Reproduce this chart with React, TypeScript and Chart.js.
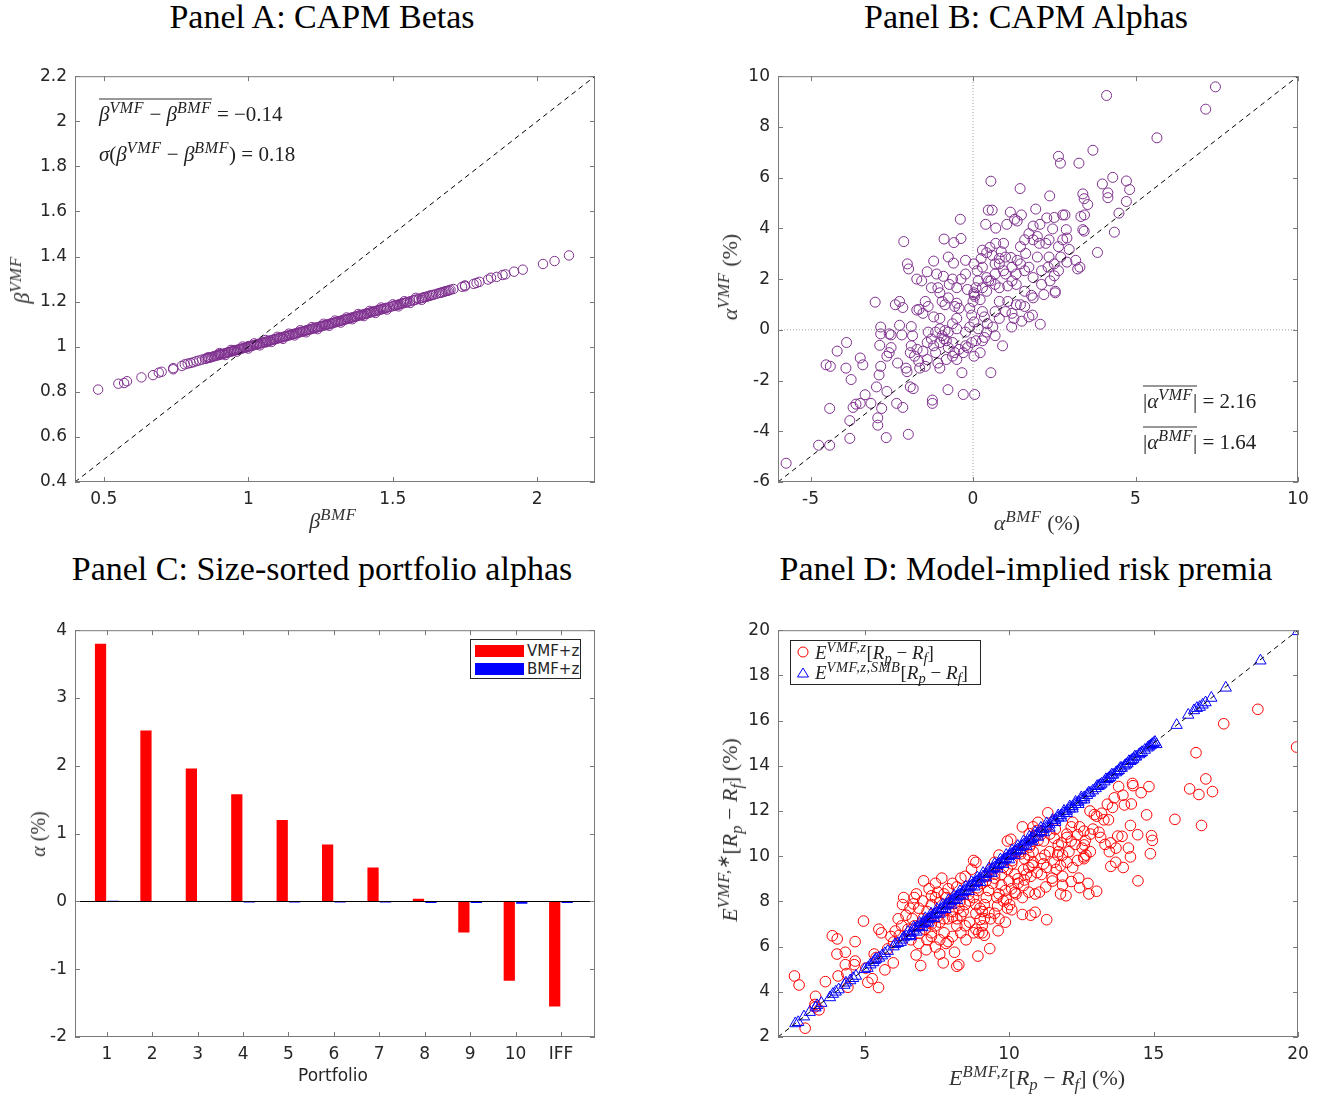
import React, { useEffect, useRef } from "react";
import { Chart, registerables } from "chart.js";
Chart.register(...registerables);

// ---------------- DATA ----------------
// Panel A: CAPM betas (BMF, VMF)
const betaPairs: number[][] = [
  [0.48,0.81],[0.55,0.836],[0.57,0.839],[0.58,0.847],[0.63,0.864],[0.67,0.874],[0.69,0.885],[0.70,0.889],
  [0.74,0.900],[0.74,0.905],[0.77,0.915],[0.78,0.922],[0.79,0.925],[0.80,0.928],[0.81,0.931],[0.82,0.936],
  [0.83,0.939],[0.84,0.943],[0.85,0.946],[0.86,0.950],[0.86,0.953],[0.87,0.953],[0.88,0.957],[0.89,0.961],
  [0.90,0.964],[0.90,0.967],[0.91,0.968],[0.92,0.971],[0.93,0.975],[0.94,0.978],[0.95,0.982],[0.95,0.985],
  [0.96,0.986],[0.97,0.989],[0.98,0.993],[0.99,0.996],[1.00,1.000],[1.00,1.003],[1.01,1.004],[1.02,1.007],
  [1.03,1.011],[1.04,1.014],[1.05,1.018],[1.06,1.022],[1.06,1.019],[1.07,1.025],[1.08,1.029],[1.09,1.032],
  [1.10,1.036],[1.11,1.040],[1.12,1.043],[1.13,1.047],[1.14,1.050],[1.15,1.054],[1.16,1.058],[1.17,1.061],
  [1.18,1.065],[1.19,1.068],[1.20,1.072],[1.21,1.076],[1.22,1.079],[1.23,1.083],[1.24,1.086],[1.25,1.090],
  [1.26,1.094],[1.27,1.097],[1.28,1.101],[1.29,1.104],[1.30,1.108],[1.31,1.112],[1.32,1.115],[1.33,1.119],
  [1.34,1.122],[1.35,1.126],[1.36,1.130],[1.37,1.133],[1.38,1.137],[1.39,1.140],[1.40,1.144],[1.41,1.148],
  [1.42,1.151],[1.43,1.155],[1.44,1.158],[1.45,1.162],[1.46,1.166],[1.47,1.169],[1.48,1.173],[1.50,1.180],
  [1.51,1.184],[1.52,1.187],[1.53,1.191],[1.54,1.194],[1.55,1.198],[1.57,1.205],[1.58,1.209],[1.60,1.216],
  [1.61,1.220],[1.62,1.223],[1.63,1.227],[1.64,1.230],[1.66,1.238],[1.67,1.241],[1.68,1.245],[1.69,1.248],
  [1.70,1.253],[1.71,1.256],[1.74,1.266],[1.75,1.268],[1.75,1.272],[1.78,1.279],[1.79,1.283],[1.80,1.288],
  [1.83,1.298],[1.84,1.306],[1.86,1.310],[1.88,1.318],[1.89,1.321],[1.92,1.333],[1.95,1.342],[2.02,1.367],
  [2.06,1.380],[2.11,1.405]
];
// the densely packed middle of the Panel A cloud
const betaPairsDense: number[][] = [
  [0.855,0.948],[0.865,0.951],[0.875,0.955],[0.885,0.959],[0.895,0.962],[0.905,0.966],[0.915,0.969],
  [0.925,0.973],[0.935,0.977],[0.945,0.980],[0.955,0.984],[0.965,0.987],[0.975,0.991],[0.985,0.995],
  [0.995,0.998],[1.005,1.002],[1.015,1.005],[1.025,1.009],[1.035,1.013],[1.045,1.016],[1.055,1.020],
  [1.065,1.023],[1.075,1.027],[1.085,1.031],[1.095,1.034],[1.105,1.038],[1.115,1.041],[1.125,1.045],
  [1.135,1.049],[1.145,1.052],[1.155,1.056],[1.165,1.059],[1.175,1.063],[1.185,1.067],[1.195,1.070],
  [1.205,1.074],[1.215,1.077],[1.225,1.081],[1.235,1.085],[1.245,1.088],[1.255,1.092],[1.265,1.095],
  [1.275,1.099],[1.285,1.103],[1.295,1.106],[1.305,1.110],[1.315,1.113],[1.325,1.117],[1.335,1.121],
  [1.345,1.124],[1.355,1.128],[1.365,1.131],[1.375,1.135],[1.385,1.139],[1.395,1.142],[1.405,1.146],
  [1.415,1.149],[1.425,1.153],[1.435,1.157],[1.445,1.160],[1.455,1.164],[1.465,1.167],[1.475,1.171],
  [1.49,1.176],[1.505,1.182],[1.515,1.185],[1.525,1.189],[1.535,1.193],[1.545,1.196],[1.56,1.202],
  [1.575,1.207],[1.59,1.212],[1.605,1.218],[1.615,1.221],[1.625,1.225],[1.635,1.229],[1.65,1.234],
  [1.665,1.239],[1.675,1.243],[1.685,1.247],[1.695,1.250],
  [0.90,0.972],[0.92,0.963],[0.94,0.986],[0.96,0.978],[0.98,1.001],[1.00,0.992],[1.02,1.015],[1.04,1.006],
  [1.06,1.030],[1.08,1.021],[1.10,1.044],[1.12,1.035],[1.14,1.058],[1.16,1.050],[1.18,1.073],[1.20,1.064],
  [1.22,1.087],[1.24,1.078],[1.26,1.102],[1.28,1.093],[1.30,1.116],[1.32,1.107],[1.34,1.130],[1.36,1.122],
  [1.38,1.145],[1.40,1.136],[1.42,1.159],[1.44,1.150],[1.46,1.174],[1.48,1.165],[1.50,1.188],[1.52,1.179],
  [1.54,1.202],[1.56,1.194],[1.58,1.217],[1.60,1.208]
];
const betaRange = [0.4, 2.2];
const betaXTicks = [0.5, 1, 1.5, 2];
const betaYTicks = [0.4, 0.6, 0.8, 1, 1.2, 1.4, 1.6, 1.8, 2, 2.2];

// Panel B: CAPM alphas (BMF %, VMF %)
const alphaPairs: number[][] = [
  [7.46,9.58],[7.16,8.70],[4.11,9.24],[5.66,7.57],[3.69,7.08],[2.63,6.84],[2.69,6.57],[3.26,6.57],[0.55,5.86],
  [1.45,5.57],[2.36,5.28],[4.30,6.01],[3.98,5.75],[4.72,5.87],[4.82,5.53],[4.15,5.40],[4.15,5.21],[3.38,5.36],
  [3.42,5.17],[3.53,4.94],[4.72,5.06],[4.49,4.60],[4.35,3.85],[3.83,3.05],[0.47,4.72],[0.59,4.72],[-0.39,4.36],
  [0.39,4.16],[0.70,4.01],[1.15,4.64],[1.49,4.53],[1.93,4.76],[2.27,4.41],[1.28,4.36],[1.36,4.29],[1.04,4.16],
  [2.06,4.16],[2.76,4.53],[2.83,4.53],[2.50,4.43],[3.32,4.47],[3.43,4.53],[3.38,3.95],[3.42,3.89],[2.45,3.98],
  [2.87,3.95],[-2.13,3.48],[-0.89,3.58],[-0.37,3.60],[-0.59,3.44],[-2.02,2.60],[-1.98,2.40],[-1.21,2.71],
  [-0.60,2.63],[-1.73,2.00],[-1.58,1.93],[-1.41,2.29],[-1.12,2.20],[-0.91,2.11],[-0.37,2.00],[-0.23,2.20],
  [0.03,2.60],[0.25,2.81],[0.42,3.04],[0.52,3.25],[0.87,3.08],[1.17,2.85],[1.46,3.28],[1.59,3.55],[1.85,3.55],
  [1.98,3.68],[1.72,3.79],[2.24,3.41],[2.63,3.28],[2.89,3.62],[2.96,3.17],[2.70,2.87],[2.89,2.67],[3.16,2.74],
  [3.29,2.47],[3.22,2.40],[2.50,2.13],[2.53,1.52],[2.53,1.46],[2.18,1.39],[2.11,2.33],[1.72,2.47],[1.59,2.33],
  [1.85,2.06],[1.33,2.20],[1.20,2.47],[0.94,2.33],[0.68,2.20],[0.55,1.93],[0.81,1.66],[1.07,1.73],[1.33,1.79],
  [1.59,1.52],[1.80,1.36],[1.07,1.12],[1.33,0.99],[1.59,0.92],[1.83,0.58],[2.07,0.22],[1.50,0.34],[1.19,0.11],
  [1.26,0.45],[0.91,-0.63],[0.55,-1.69],[0.05,-2.55],[-0.30,-2.55],[-0.34,-1.69],[-0.77,-2.36],[-1.25,-2.77],
  [-1.25,-2.90],[-1.99,-4.12],[-2.67,-4.25],[-3.79,-4.28],[-4.75,-4.55],[-4.41,-4.55],[-5.75,-5.26],[-3.79,-3.58],
  [-3.69,-3.06],[-3.60,-2.93],[-3.47,-2.90],[-4.41,-3.10],[-3.14,-2.90],[-3.32,-2.56],[-2.93,-3.47],[-2.81,-3.10],
  [-2.93,-3.76],[-2.97,-2.25],[-2.65,-2.43],[-2.35,-2.90],[-2.16,-3.06],[-1.93,-2.25],[-1.84,-2.32],[-3.75,-1.96],
  [-3.91,-1.51],[-4.52,-1.38],[-4.39,-1.44],[-4.18,-0.84],[-3.89,-0.50],[-3.47,-1.11],[-3.39,-1.38],[-2.89,-1.78],
  [-2.84,-1.44],[-2.65,-1.04],[-2.58,-0.90],[-2.52,-0.70],[-2.87,-0.61],[-2.84,-0.16],[-2.84,0.11],[-2.58,-0.16],
  [-2.52,-0.20],[-2.32,-1.31],[-2.06,-1.51],[-2.03,-1.65],[-2.19,-0.20],[-2.26,0.18],[-1.90,0.13],[-1.86,-0.23],
  [-1.90,-0.63],[-1.93,-0.90],[-1.80,-1.04],[-1.67,-1.24],[-1.64,-1.51],[-1.41,-1.17],[-1.54,-0.84],[-1.72,-0.77],
  [-1.41,-0.50],[-1.28,-0.36],[-1.21,-0.63],[-1.38,-0.09],[-1.15,-0.09],[-1.02,0.04],[-0.95,-0.23],[-0.89,-0.36],
  [-1.15,-0.90],[-1.08,-1.31],[-1.02,-1.51],[-0.82,-1.17],[-0.63,-1.04],[-0.50,-1.17],[-0.30,-0.90],[-0.23,-0.63],
  [-0.04,-0.50],[0.03,-1.04],[0.22,-0.90],[0.29,-0.43],[0.35,-0.30],[0.42,-0.09],[0.68,-0.23],[0.61,0.11],
  [0.44,0.24],[0.03,0.31],[-0.04,0.58],[-0.10,0.85],[-0.43,0.85],[-0.50,1.05],[-0.56,0.92],[-0.76,1.26],
  [-0.86,0.99],[-0.95,1.12],[-1.02,1.46],[-1.28,1.66],[-1.08,1.66],[-1.47,1.12],[-1.38,0.92],[-1.54,0.65],
  [-1.21,0.51],[-1.73,0.78],[-1.66,0.81],[-2.39,0.99],[-2.26,1.12],[-2.16,0.88],[-3.01,1.09],[-0.73,1.79],
  [-0.63,2.00],[-0.50,1.66],[-0.17,1.59],[0.03,1.46],[0.05,1.32],[0.00,1.12],[0.22,1.19],[0.29,0.72],[0.35,0.51],
  [0.68,0.72],[0.81,0.45],[1.00,0.72],[1.20,0.65],[0.81,1.12],[0.29,1.66],[0.42,1.52],[0.16,1.93],[0.48,1.93],
  [0.68,1.79],[0.13,2.33],[0.29,2.47],[0.42,2.06],[0.68,2.60],[0.81,2.81],[0.29,3.14],[0.59,2.94],[0.03,1.39],
  [-0.10,0.11],[-0.50,0.04],[-0.63,0.24],[-0.23,-0.09],[-0.63,-0.50],[-0.76,-0.70],[0.16,0.04],[0.09,-0.43],
  [-0.17,-0.70],[-0.43,-0.77],[-0.56,-0.90],[-1.02,-0.50],[-0.82,-0.43],[-0.76,-0.09],[-0.86,-0.03],[-1.47,-1.44],
  [-0.76,2.87],[-0.23,2.74],[0.09,1.66],[-0.50,0.45],[-1.02,0.45],[1.72,0.51],[1.46,0.99],[1.85,1.26],[2.11,1.79],
  [2.37,1.93],[2.31,2.47],[2.50,2.60],[2.63,2.33],[2.34,2.87],[1.46,2.60],[1.36,2.74],[1.00,2.87],[0.81,2.60],
  [1.00,2.20],[1.20,1.93],[1.98,2.87],[1.62,3.01],[2.04,3.41],[2.34,3.55],[2.76,3.55],[1.85,4.09],[0.94,3.41],
  [0.70,3.41]
];
const alphaXRange = [-6, 10];
const alphaYRange = [-6, 10];
const alphaXTicks = [-5, 0, 5, 10];
const alphaYTicks = [-6, -4, -2, 0, 2, 4, 6, 8, 10];

// Panel C: size-sorted portfolio alphas (%)
const portfolioLabels = ["1", "2", "3", "4", "5", "6", "7", "8", "9", "10", "IFF"];
const portfolioPos = [1, 2, 3, 4, 5, 6, 7, 8, 9, 10, 11];
const alphaVMFz = [3.80, 2.52, 1.96, 1.58, 1.20, 0.84, 0.50, 0.04, -0.46, -1.17, -1.55];
const alphaBMFz = [0.01, 0.005, 0.005, -0.015, -0.015, -0.015, -0.015, -0.025, -0.025, -0.035, -0.025];
const portfolioRange = [0.3, 11.75];
const portfolioYRange = [-2, 4];
const portfolioYTicks = [-2, -1, 0, 1, 2, 3, 4];

// Panel D: model-implied risk premia (%)
const premiaVMFz: number[][] = [
  [19.95,14.83],[18.61,16.5],[17.43,15.86],[16.47,14.58],[16.81,13.42],[16.25,12.98],[16.57,12.73],[17.04,12.86],
  [16.66,11.36],[15.74,11.63],[14.84,13.08],[14.93,10.91],[14.96,10.70],[14.89,10.11],[14.76,11.83],[14.57,12.81],
  [14.27,13.22],[14.29,13.12],[14.23,12.31],[14.20,11.36],[14.45,10.95],[14.13,10.36],[13.95,9.50],[14.46,8.91],
  [13.69,9.73],[13.52,9.55],[13.79,13.08],[13.64,12.58],[13.94,12.70],[13.58,12.16],[13.99,12.27],[13.76,10.89],
  [13.91,10.88],[13.70,10.36],[13.52,10.59],[13.44,11.61],[13.28,11.61],[13.11,11.06],[13.03,11.77],[12.95,11.84],
  [12.81,10.98],[12.64,10.70],[12.44,11.30],[12.59,11.11],[12.37,10.95],[12.53,10.36],[12.29,10.52],[12.15,10.67],
  [12.0,10.83],[12.07,10.20],[11.85,10.05],[12.0,9.73],[12.37,9.81],[12.59,9.97],[12.41,9.03],[12.44,8.61],
  [12.73,8.80],[12.76,8.33],[13.03,8.45],[11.85,8.72],[11.97,8.25],[11.78,8.33],[11.49,9.03],[11.63,9.42],
  [11.56,9.73],[11.78,9.58],[11.68,10.05],[11.71,10.20],[11.82,10.59],[12.0,10.98],[12.15,11.30],[11.56,10.80],
  [11.41,10.98],[11.34,11.92],[11.24,10.05],[11.19,9.66],[11.12,9.19],[11.27,8.64],[11.30,7.19],[10.90,8.33],
  [11.05,8.41],[10.68,8.41],[10.75,7.39],[10.90,7.52],[10.46,7.42],[10.46,8.17],[10.24,8.33],[10.09,8.56],
  [10.31,8.80],[10.53,8.95],[10.75,9.11],[10.97,9.27],[10.68,9.50],[10.83,9.73],[10.68,10.05],[10.83,10.20],
  [10.53,9.89],[10.39,10.20],[10.46,11.30],[10.06,10.75],[9.94,10.67],[10.09,9.66],[9.94,9.42],[9.73,9.19],
  [9.50,9.03],[9.73,8.72],[9.87,8.48],[9.65,8.33],[9.58,8.17],[9.80,8.02],[10.02,7.86],[10.09,7.63],[9.94,7.70],
  [9.50,7.47],[9.62,6.70],[9.33,5.91],[9.14,7.23],[9.14,7.86],[9.21,8.17],[9.29,8.48],[8.99,7.70],[8.85,7.47],
  [9.07,6.92],[9.07,6.61],[9.14,6.50],[8.95,6.61],[8.92,5.58],[8.77,6.61],[8.85,6.77],[8.63,7.08],[8.48,6.92],
  [8.51,6.30],[8.26,5.20],[8.19,5.13],[8.11,5.75],[7.89,6.22],[7.82,6.14],[7.60,5.67],[7.72,5.28],[7.75,6.61],
  [8.19,7.23],[8.33,7.39],[8.41,7.55],[8.26,7.70],[8.04,7.31],[7.89,7.23],[8.04,7.55],[7.75,7.23],[7.60,7.08],
  [7.45,6.92],[7.31,6.61],[7.31,6.45],[7.16,6.30],[7.13,5.86],[6.78,5.63],[6.94,5.16],[6.87,6.14],[7.01,7.23],
  [6.87,7.70],[7.01,8.02],[7.04,8.91],[7.23,8.56],[7.45,8.80],[7.67,9.03],[8.04,8.80],[8.33,9.03],[8.77,9.81],
  [8.85,9.73],[8.70,9.42],[8.48,9.11],[8.19,8.64],[7.75,8.33],[7.45,8.17],[7.31,7.86],[7.16,7.55],[6.72,8.17],
  [6.69,7.89],[6.57,7.70],[6.43,7.39],[6.31,7.86],[6.16,7.23],[6.28,6.92],[6.06,6.69],[5.91,6.45],[5.58,6.61],
  [5.49,6.77],[4.96,7.13],[5.99,5.28],[5.70,4.97],[5.48,4.19],[5.26,4.58],[5.11,4.42],[5.04,5.05],[5.33,5.67],
  [5.40,5.52],[4.67,6.22],[4.64,5.20],[4.67,5.36],[4.42,4.20],[4.38,4.81],[4.33,5.20],[4.33,5.75],[4.08,4.70],
  [4.04,5.67],[4.05,6.34],[3.88,6.48],[3.64,4.45],[3.30,3.80],[3.28,3.44],[3.42,3.20],[3.28,3.33],[2.57,4.70],
  [2.73,4.30],[2.94,2.39],[10.83,11.30],[11.12,10.98],[10.97,11.14],[11.19,10.67],[10.75,10.52],[10.24,10.20],
  [9.65,10.05],[9.50,9.73],[9.36,9.42],[9.21,9.11],[9.43,8.80],[9.07,8.80],[8.92,8.48],[8.77,8.17],[8.63,8.02],
  [8.48,7.86],[8.85,7.86],[9.07,7.55],[9.36,7.23],[9.65,7.23],[9.87,7.08],[8.19,6.92],[8.33,6.61],[8.04,6.45],
  [7.60,6.30],[7.45,5.98],[7.31,7.00],[7.09,6.77],[6.94,7.00],[6.72,6.92],[6.65,7.23],[6.50,6.77],[6.35,8.17],
  [6.79,8.33],[7.31,8.25],[7.53,8.41],[7.89,8.56],[7.82,8.17],[7.60,7.94],[14.20,9.97],[13.17,10.83],[13.32,10.52],
  [13.47,10.20],[12.59,9.89],[12.81,10.20],[12.66,10.05],[11.85,9.11],[12.15,8.88],
  [8.3,8.0],[8.6,8.3],[8.9,8.6],[9.2,8.9],[9.5,9.2],[9.8,9.5],[10.1,9.8],[10.4,10.1],[10.7,10.4],[11.0,10.7],
  [10.2,9.2],[10.5,9.4],[10.8,9.6],[11.1,9.9],[11.4,10.2],[11.7,10.5],[9.0,7.2],[9.3,7.5],[9.6,7.8],[9.9,8.1],
  [10.2,8.4],[10.5,8.7],[7.8,7.6],[8.1,7.9],[7.5,7.3],[7.2,7.1],[6.9,6.6],[6.6,6.3],[6.2,6.5],[6.0,6.2],
  [5.8,5.9],[10.3,9.0],[10.6,9.2],[10.0,8.9],[11.3,9.5],[11.5,8.9],[12.2,9.5],[12.6,10.5],[12.9,11.2],
  [13.2,11.9],[13.4,12.3],[12.8,12.0],[12.2,11.5],[11.6,11.2],[11.0,11.5],[10.7,11.0]
];
const premiaSMB: number[][] = [
  [2.6,2.6],[2.7,2.65],[2.9,2.9],[3.1,3.1],[3.3,3.3],[3.35,3.4],[3.5,3.5],[3.8,3.75],[3.9,3.9],[4.0,4.0],
  [4.1,4.1],[4.3,4.3],[4.35,4.4],[4.5,4.5],[4.6,4.6],[4.7,4.7],[5.0,5.0],[5.1,5.05],[5.2,5.2],[5.3,5.3],
  [5.35,5.4],[5.4,5.45],[5.5,5.5],[5.6,5.6],[5.7,5.7],[5.8,5.8],[6.0,6.0],[6.05,6.1],[6.15,6.15],[6.25,6.2],
  [6.3,6.3],[6.35,6.4],[6.45,6.45],[6.55,6.5],[6.6,6.6],[6.7,6.7],[6.75,6.8],[6.85,6.85],[6.9,6.9],[7.0,7.0],
  [7.05,7.05],[7.1,7.1],[7.2,7.2],[7.25,7.25],[7.3,7.3],[7.4,7.4],[7.45,7.45],[7.5,7.5],[7.6,7.6],[7.65,7.65],
  [7.7,7.7],[7.8,7.8],[7.85,7.85],[7.9,7.9],[8.0,8.0],[8.05,8.05],[8.1,8.1],[8.2,8.2],[8.25,8.25],[8.3,8.3],
  [8.4,8.4],[8.45,8.45],[8.5,8.5],[8.6,8.6],[8.65,8.65],[8.7,8.7],[8.8,8.8],[8.85,8.85],[8.9,8.9],[9.0,9.0],
  [9.1,9.1],[9.2,9.2],[9.3,9.3],[9.4,9.4],[9.45,9.45],[9.5,9.5],[9.6,9.6],[9.65,9.65],[9.7,9.7],[9.8,9.8],
  [9.85,9.85],[9.9,9.9],[10.0,10.0],[10.05,10.05],[10.1,10.1],[10.2,10.2],[10.25,10.25],[10.3,10.3],[10.4,10.4],
  [10.45,10.45],[10.5,10.5],[10.6,10.6],[10.7,10.7],[10.75,10.75],[10.8,10.8],[10.9,10.9],[11.0,11.0],
  [11.1,11.1],[11.2,11.2],[11.3,11.3],[11.4,11.4],[11.5,11.5],[11.6,11.6],[11.7,11.7],[11.8,11.8],[11.9,11.9],
  [12.0,12.0],[12.1,12.1],[12.2,12.2],[12.3,12.3],[12.4,12.4],[12.5,12.5],[12.6,12.6],[12.7,12.7],[12.8,12.8],
  [13.0,13.0],[13.1,13.1],[13.2,13.2],[13.3,13.3],[13.4,13.4],[13.5,13.5],[13.6,13.6],[13.7,13.7],[13.8,13.8],
  [13.9,13.9],[14.0,14.0],[14.1,14.1],[14.2,14.2],[14.3,14.3],[14.4,14.4],[14.5,14.5],[14.6,14.6],[14.8,14.8],
  [14.9,14.9],[15.0,15.0],[15.8,15.8],[16.2,16.25],[16.4,16.45],[16.5,16.55],[16.6,16.6],[16.7,16.7],
  [16.8,16.8],[17.0,17.0],[17.5,17.45],[18.7,18.65],[20.0,19.95],
  [6.5,6.65],[6.6,6.45],[6.7,6.85],[6.8,6.65],[6.9,7.05],[7.0,6.85],[7.1,7.25],[7.2,7.05],[7.3,7.45],[7.4,7.25],
  [7.5,7.65],[7.6,7.45],[7.7,7.85],[7.8,7.65],[7.9,8.05],[8.0,7.85],[8.1,8.25],[8.2,8.05],[8.3,8.45],[8.4,8.25],
  [8.5,8.65],[8.6,8.45],[8.7,8.85],[8.8,8.65],[8.9,9.05],[9.0,8.85],[9.1,9.25],[9.2,9.05],[9.3,9.45],[9.4,9.25],
  [9.5,9.65],[9.6,9.45],[9.7,9.85],[9.8,9.65],[9.9,10.05],[10.0,9.85],[10.1,10.25],[10.2,10.05],[10.3,10.45],
  [10.4,10.25],[10.5,10.65],[10.6,10.45],[10.7,10.85],[10.8,10.65],[10.9,11.05],[11.0,10.85],[11.1,11.25],
  [11.2,11.05],[11.3,11.45],[11.4,11.25],[11.5,11.6],[11.6,11.5],[11.7,11.8],[11.8,11.7],[11.9,12.0],[12.0,11.9],
  [12.1,12.2],[12.2,12.1],[12.3,12.4],[12.4,12.3],[12.5,12.6],[12.6,12.5],[12.75,12.8],[12.9,12.9],[13.05,13.1],
  [13.15,13.15],[13.35,13.4],[13.45,13.45],[13.55,13.6],[13.75,13.75],[13.85,13.9],[14.05,14.05],[14.15,14.2],
  [14.25,14.25],[14.35,14.4],[14.55,14.55],[14.7,14.7],[14.85,14.85],[14.95,14.95],[15.05,15.05],[15.1,14.95]
];
const premiaRange = [2, 20];
const premiaXTicks = [5, 10, 15, 20];
const premiaYTicks = [2, 4, 6, 8, 10, 12, 14, 16, 18, 20];

// ---------------- STYLE CONSTANTS ----------------
const AX_W = 70;
const AX_H = 45;
const PAD_T = 15;
const PAD_R = 20;
const TICK_FONT = { family: "DejaVu Sans", size: 17 };
const TICK_COLOR = "#262626";
const PURPLE = "#7E2F8E";

const boxPlugin = {
  id: "matlabBox",
  afterDatasetsDraw(chart: any, _args: any, opts: any) {
    const { ctx, chartArea: a } = chart;
    const xs = chart.scales.x;
    const ys = chart.scales.y;
    ctx.save();
    if (opts && opts.zeroLine) {
      const py = Math.round(ys.getPixelForValue(0)) + 0.5;
      ctx.strokeStyle = "#000";
      ctx.lineWidth = 1;
      ctx.beginPath();
      ctx.moveTo(a.left, py);
      ctx.lineTo(a.right, py);
      ctx.stroke();
    }
    ctx.strokeStyle = "#7a7a7a";
    ctx.lineWidth = 1;
    ctx.strokeRect(a.left + 0.5, a.top + 0.5, a.right - a.left - 1, a.bottom - a.top - 1);
    const L = 5;
    ctx.beginPath();
    xs.ticks.forEach((t: any) => {
      const px = Math.round(xs.getPixelForValue(t.value)) + 0.5;
      ctx.moveTo(px, a.bottom);
      ctx.lineTo(px, a.bottom - L);
      ctx.moveTo(px, a.top);
      ctx.lineTo(px, a.top + L);
    });
    ys.ticks.forEach((t: any) => {
      const py = Math.round(ys.getPixelForValue(t.value)) + 0.5;
      ctx.moveTo(a.left, py);
      ctx.lineTo(a.left + L, py);
      ctx.moveTo(a.right, py);
      ctx.lineTo(a.right - L, py);
    });
    ctx.stroke();
    ctx.restore();
  },
};

function axis(range: number[], ticks: number[], kind: "x" | "y", labelFn?: (v: number) => string) {
  return {
    type: "linear",
    min: range[0],
    max: range[1],
    grid: { display: false, drawTicks: false },
    border: { display: false },
    afterBuildTicks: (s: any) => {
      s.ticks = ticks.map((v) => ({ value: v }));
    },
    afterFit: (s: any) => {
      if (kind === "x") s.height = AX_H;
      else s.width = AX_W;
    },
    ticks: {
      padding: kind === "x" ? 7 : 8,
      color: TICK_COLOR,
      font: TICK_FONT,
      autoSkip: false,
      maxRotation: 0,
      callback: (v: any) => (labelFn ? labelFn(Number(v)) : String(v)),
    },
  };
}

function baseOptions(xAxis: any, yAxis: any, extra: any = {}) {
  return {
    animation: false,
    responsive: false,
    events: [],
    layout: { padding: { left: 0, top: PAD_T, right: PAD_R, bottom: 0 } },
    plugins: {
      legend: { display: false },
      tooltip: { enabled: false },
      title: { display: false },
      matlabBox: extra,
    },
    scales: { x: xAxis, y: yAxis },
  };
}

function pts(pairs: number[][]) {
  return pairs.map((p) => ({ x: p[0], y: p[1] }));
}

function lineSet(a: number[], b: number[], color: string, dash: number[]) {
  return {
    data: [
      { x: a[0], y: b[0] },
      { x: a[1], y: b[1] },
    ],
    showLine: true,
    borderColor: color,
    borderWidth: 1,
    borderDash: dash,
    pointRadius: 0,
    fill: false,
  };
}

function markerSet(pairs: number[][], color: string, r: number, style = "circle") {
  return {
    data: pts(pairs),
    pointStyle: style,
    pointRadius: r,
    pointBorderColor: color,
    pointBackgroundColor: "rgba(0,0,0,0)",
    pointBorderWidth: 1,
    showLine: false,
  };
}

const configA = () => ({
  type: "scatter",
  data: {
    datasets: [
      lineSet(betaRange, betaRange, "#000", [5, 4]),
      markerSet(betaPairs, PURPLE, 4.7),
      markerSet(betaPairsDense, PURPLE, 4.7),
    ],
  },
  options: baseOptions(axis(betaRange, betaXTicks, "x"), axis(betaRange, betaYTicks, "y")),
  plugins: [boxPlugin],
});

const configB = () => ({
  type: "scatter",
  data: {
    datasets: [
      lineSet(alphaXRange, alphaYRange, "#000", [5, 4]),
      lineSet([0, 0], alphaYRange, "#a0a0a0", [1, 2]),
      lineSet(alphaXRange, [0, 0], "#a0a0a0", [1, 2]),
      markerSet(alphaPairs, PURPLE, 5),
    ],
  },
  options: baseOptions(axis(alphaXRange, alphaXTicks, "x"), axis(alphaYRange, alphaYTicks, "y")),
  plugins: [boxPlugin],
});

const configC = () => ({
  type: "bar",
  data: {
    datasets: [
      {
        label: "VMF+z",
        data: portfolioPos.map((x, i) => ({ x, y: alphaVMFz[i] })),
        backgroundColor: "#FF0000",
        borderWidth: 0,
        categoryPercentage: 0.55,
        barPercentage: 0.9,
      },
      {
        label: "BMF+z",
        data: portfolioPos.map((x, i) => ({ x, y: alphaBMFz[i] })),
        backgroundColor: "#0000FF",
        borderWidth: 0,
        categoryPercentage: 0.55,
        barPercentage: 0.9,
      },
    ],
  },
  options: baseOptions(
    { ...axis(portfolioRange, portfolioPos, "x", (v) => portfolioLabels[v - 1] ?? ""), offset: false },
    axis(portfolioYRange, portfolioYTicks, "y"),
    { zeroLine: true }
  ),
  plugins: [boxPlugin],
});

const configD = () => ({
  type: "scatter",
  data: {
    datasets: [
      lineSet(premiaRange, premiaRange, "#000", [5, 4]),
      markerSet(premiaSMB, "#0000FF", 6.5, "triangle"),
      markerSet(premiaVMFz, "#FF0000", 5.3),
    ],
  },
  options: baseOptions(axis(premiaRange, premiaXTicks, "x"), axis(premiaRange, premiaYTicks, "y")),
  plugins: [boxPlugin],
});

// plot boxes on the page: [left, top, right, bottom]
const boxA = [75, 73, 595, 482];
const boxB = [778, 73, 1298, 482];
const boxC = [75, 627, 595, 1037];
const boxD = [778, 627, 1298, 1037];

function ChartPanel({ box, config }: { box: number[]; config: () => any }) {
  const ref = useRef<HTMLCanvasElement | null>(null);
  const left = box[0] - AX_W;
  const top = box[1] - PAD_T;
  const width = box[2] - box[0] + AX_W + PAD_R;
  const height = box[3] - box[1] + PAD_T + AX_H;
  useEffect(() => {
    const chart = new Chart(ref.current as HTMLCanvasElement, config() as any);
    return () => chart.destroy();
  }, []);
  return (
    <canvas
      ref={ref}
      width={width}
      height={height}
      style={{ position: "absolute", left, top, width, height }}
    />
  );
}

// ---------------- TEXT HELPERS ----------------
const SERIF = '"Liberation Serif", "Times New Roman", serif';
const SANS = '"DejaVu Sans", sans-serif';

const Sup = ({ c }: { c: string }) => (
  <span style={{ fontSize: "0.76em", verticalAlign: "0.5em", fontStyle: "italic", lineHeight: 0, letterSpacing: "0.04em" }}>{c}</span>
);
const Sub = ({ c }: { c: string }) => (
  <span style={{ fontSize: "0.76em", verticalAlign: "-0.3em", fontStyle: "italic", lineHeight: 0 }}>{c}</span>
);
const I = ({ c }: { c: string }) => <span style={{ fontStyle: "italic" }}>{c}</span>;

function Centered({ x, y, rotate, size, family, color, children }: any) {
  return (
    <div
      style={{
        position: "absolute",
        left: x,
        top: y,
        transform: `translate(-50%,-50%)${rotate ? " rotate(-90deg)" : ""}`,
        whiteSpace: "nowrap",
        fontFamily: family || SERIF,
        fontSize: size || 22,
        lineHeight: 1,
        color: color || "#333",
      }}
    >
      {children}
    </div>
  );
}

function Title({ cx, top, children }: any) {
  return (
    <div
      style={{
        position: "absolute",
        left: cx - 350,
        width: 700,
        top,
        textAlign: "center",
        fontFamily: SERIF,
        fontSize: 34,
        lineHeight: "34px",
        color: "#000",
        whiteSpace: "nowrap",
      }}
    >
      {children}
    </div>
  );
}

function TextAt({ x, y, size, children }: any) {
  return (
    <div
      style={{
        position: "absolute",
        left: x,
        top: y,
        transform: "translateY(-50%)",
        whiteSpace: "nowrap",
        fontFamily: SERIF,
        fontSize: size || 21,
        lineHeight: 1,
        color: "#222",
      }}
    >
      {children}
    </div>
  );
}

const over: React.CSSProperties = { borderTop: "1px solid #333", paddingTop: 2 };

export default function App() {
  return (
    <div style={{ position: "absolute", left: 0, top: 0, width: 1325, height: 1097, background: "#fff", overflow: "hidden" }}>
      <ChartPanel box={boxA} config={configA} />
      <ChartPanel box={boxB} config={configB} />
      <ChartPanel box={boxC} config={configC} />
      <ChartPanel box={boxD} config={configD} />

      <Title cx={322} top={0}>Panel A: CAPM Betas</Title>
      <Title cx={1026} top={0}>Panel B: CAPM Alphas</Title>
      <Title cx={322} top={552}>Panel C: Size-sorted portfolio alphas</Title>
      <Title cx={1026} top={552}>Panel D: Model-implied risk premia</Title>

      {/* Panel A labels */}
      <Centered x={333} y={521}>
        <I c="β" />
        <Sup c="BMF" />
      </Centered>
      <Centered x={22} y={280} rotate>
        <I c="β" />
        <Sup c="VMF" />
      </Centered>
      <TextAt x={99} y={114}>
        <span style={over}>
          <I c="β" />
          <Sup c="VMF" /> − <I c="β" />
          <Sup c="BMF" />
        </span>{" "}
        = −0.14
      </TextAt>
      <TextAt x={99} y={154}>
        <I c="σ" />(<I c="β" />
        <Sup c="VMF" /> − <I c="β" />
        <Sup c="BMF" />) = 0.18
      </TextAt>

      {/* Panel B labels */}
      <Centered x={1037} y={523}>
        <I c="α" />
        <Sup c="BMF" /> (%)
      </Centered>
      <Centered x={730} y={277} rotate>
        <I c="α" />
        <Sup c="VMF" /> (%)
      </Centered>
      <TextAt x={1143} y={401}>
        <span style={over}>
          |<I c="α" />
          <Sup c="VMF" />|
        </span>{" "}
        = 2.16
      </TextAt>
      <TextAt x={1143} y={442}>
        <span style={over}>
          |<I c="α" />
          <Sup c="BMF" />|
        </span>{" "}
        = 1.64
      </TextAt>

      {/* Panel C labels */}
      <Centered x={333} y={1075} family={SANS} size={17} color="#262626">
        Portfolio
      </Centered>
      <Centered x={38} y={834} rotate size={20}>
        <I c="α" /> (%)
      </Centered>
      <div
        style={{
          position: "absolute",
          left: 470,
          top: 639,
          width: 111,
          height: 40,
          border: "1px solid #262626",
          background: "#fff",
          boxSizing: "border-box",
        }}
      >
        <div style={{ position: "absolute", left: 4, top: 5, width: 49, height: 12, background: "#FF0000" }} />
        <div style={{ position: "absolute", left: 4, top: 23, width: 49, height: 12, background: "#0000FF" }} />
        <div style={{ position: "absolute", left: 56, top: 3, fontFamily: SANS, fontSize: 15, lineHeight: "16px", color: "#262626" }}>VMF+z</div>
        <div style={{ position: "absolute", left: 56, top: 21, fontFamily: SANS, fontSize: 15, lineHeight: "16px", color: "#262626" }}>BMF+z</div>
      </div>

      {/* Panel D labels */}
      <Centered x={1037} y={1078}>
        <I c="E" />
        <Sup c="BMF,z" />[<I c="R" />
        <Sub c="p" /> − <I c="R" />
        <Sub c="f" />] (%)
      </Centered>
      <Centered x={730} y={830} rotate>
        <I c="E" />
        <Sup c="VMF,∗" />[<I c="R" />
        <Sub c="p" /> − <I c="R" />
        <Sub c="f" />] (%)
      </Centered>
      <div
        style={{
          position: "absolute",
          left: 790,
          top: 640,
          width: 191,
          height: 45,
          border: "1px solid #262626",
          background: "#fff",
          boxSizing: "border-box",
        }}
      >
        <svg style={{ position: "absolute", left: 4, top: 4 }} width={16} height={36}>
          <circle cx={8} cy={7} r={5} fill="none" stroke="#FF0000" strokeWidth={1} />
          <polygon points="8,23 13.5,32 2.5,32" fill="none" stroke="#0000FF" strokeWidth={1} />
        </svg>
        <div style={{ position: "absolute", left: 24, top: 1, fontFamily: SERIF, fontSize: 19, lineHeight: "21px", color: "#222", whiteSpace: "nowrap" }}>
          <I c="E" />
          <Sup c="VMF,z" />[<I c="R" />
          <Sub c="p" /> − <I c="R" />
          <Sub c="f" />]
        </div>
        <div style={{ position: "absolute", left: 24, top: 21, fontFamily: SERIF, fontSize: 19, lineHeight: "21px", color: "#222", whiteSpace: "nowrap" }}>
          <I c="E" />
          <Sup c="VMF,z,SMB" />[<I c="R" />
          <Sub c="p" /> − <I c="R" />
          <Sub c="f" />]
        </div>
      </div>
    </div>
  );
}
